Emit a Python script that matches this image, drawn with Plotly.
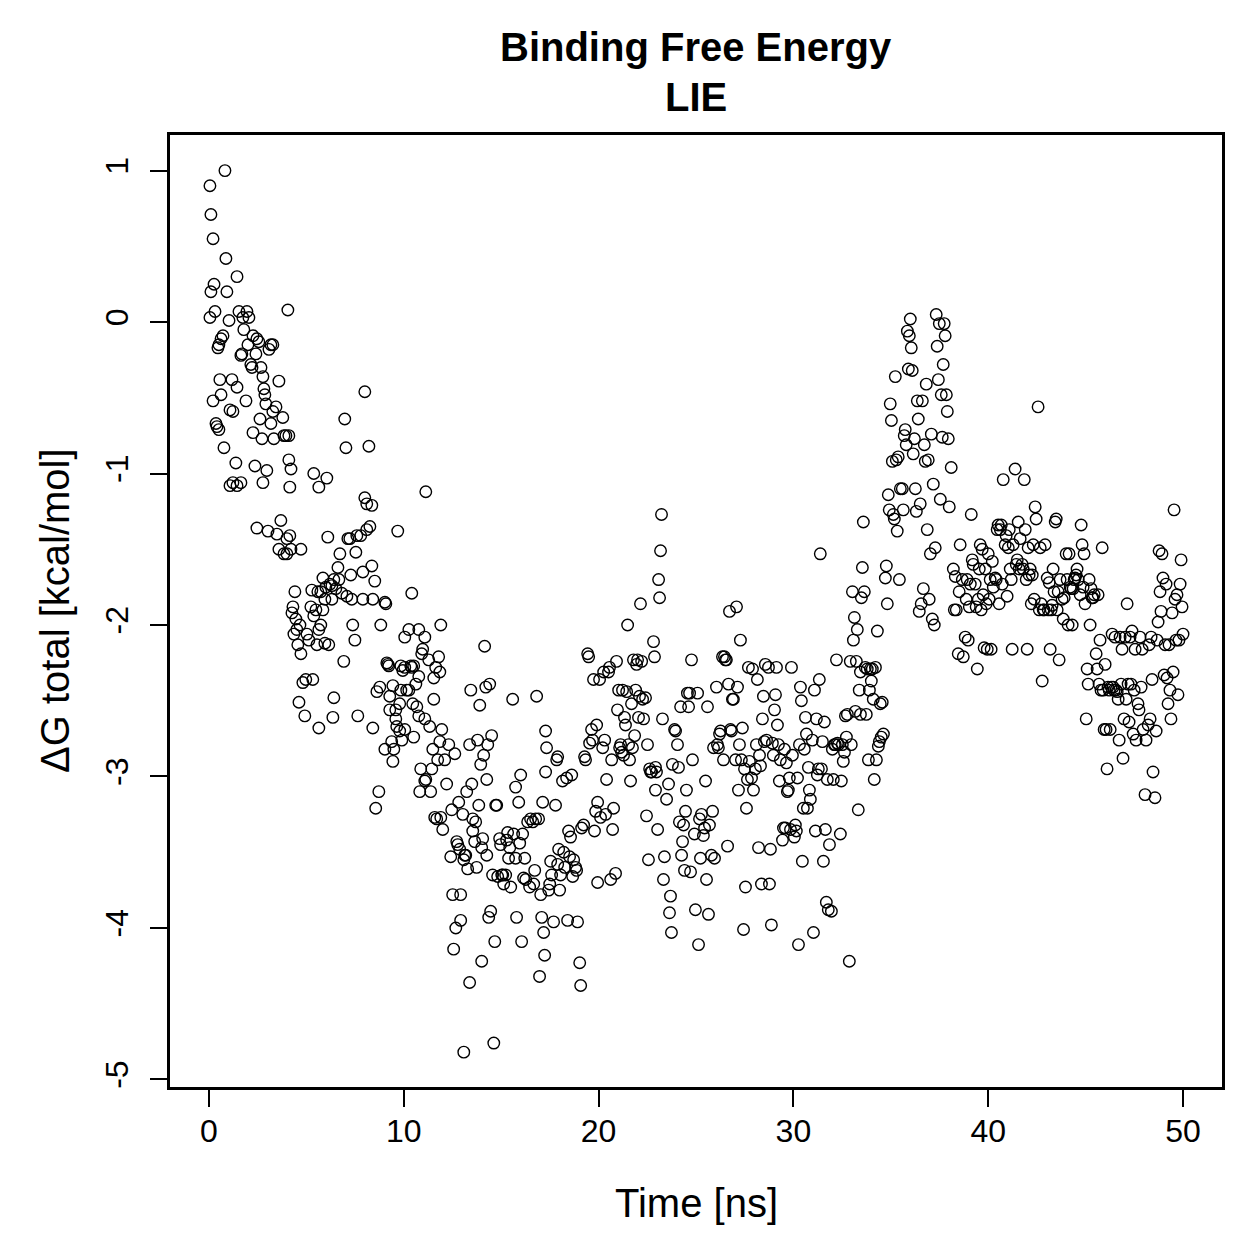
import plotly.graph_objects as go

# Time [ns] and Delta G total [kcal/mol], grouped by 2-ns windows
time_ns = [
    0.05,0.10,0.21,0.82,0.10,0.26,0.05,0.31,0.87,1.44,0.92,1.03,0.51,0.62,0.72,0.46,0.21,0.62,0.56,1.18,1.08,1.23,1.44,0.36,0.51,0.41,0.77,1.38,1.08,1.23,1.44,1.64,1.54,1.74,1.95,1.64,1.69,1.90,1.79,2.15,2.00,
    2.05,2.26,2.56,2.41,2.21,2.46,2.67,2.77,2.82,2.92,3.08,3.18,3.28,2.87,2.62,2.26,2.72,2.36,2.77,2.97,3.18,3.28,3.33,3.44,3.59,3.79,3.85,3.95,4.10,4.05,4.10,4.21,4.15,2.46,3.03,3.49,3.69,3.59,3.85,4.00,4.15,4.21,4.00,
    4.26,4.31,4.46,4.36,4.51,4.67,4.72,4.41,4.56,4.72,4.82,4.97,4.62,4.92,5.03,5.13,5.28,5.23,5.33,5.38,5.64,5.59,5.74,5.85,5.54,5.64,5.74,5.49,5.64,5.38,5.95,5.85,5.95,6.05,6.00,
    6.10,6.21,6.31,6.41,6.31,6.15,6.36,6.41,6.51,6.62,6.72,6.67,6.82,6.92,6.97,7.03,7.08,7.13,7.23,7.28,7.33,7.38,7.49,7.54,7.59,7.64,7.79,7.90,7.90,8.00,8.00,8.10,8.21,8.10,8.26,8.36,
    8.36,8.41,8.51,8.41,8.62,8.77,8.72,8.56,8.82,9.03,9.08,9.13,9.18,9.23,9.28,9.38,9.44,9.49,9.59,9.64,9.69,9.79,9.85,9.85,9.95,10.05,10.05,10.05,9.90,9.28,9.44,9.59,9.79,9.03,
    10.15,10.26,10.36,10.41,10.41,10.51,10.26,10.46,10.51,10.62,10.67,10.77,10.77,10.77,10.82,10.87,10.92,10.97,11.08,11.08,11.13,11.13,11.08,11.28,11.33,11.38,11.44,11.49,11.54,11.54,11.64,11.59,11.69,11.74,11.90,11.95,11.90,12.00,11.85,11.79,11.85,
    12.10,12.31,12.41,12.51,12.56,12.67,12.72,12.77,12.82,12.92,12.92,13.03,13.08,13.13,13.08,13.18,13.23,13.28,13.38,13.38,13.44,13.54,13.54,13.64,13.74,13.85,13.95,14.00,14.00,13.79,13.90,12.20,12.46,12.62,12.87,13.49,13.69,
    14.05,14.10,14.15,14.21,14.26,14.26,14.31,14.36,14.41,14.46,14.51,14.56,14.62,14.67,14.72,14.77,14.82,14.92,14.97,15.03,15.08,15.13,15.23,15.28,15.33,15.38,15.44,15.49,15.59,15.64,15.74,15.74,15.79,15.90,15.95,16.00,
    16.05,16.10,16.15,16.21,16.26,16.36,16.46,16.51,16.62,16.67,16.72,16.82,16.77,16.92,16.97,17.03,17.08,17.13,17.18,17.23,17.28,17.28,17.33,17.44,17.49,17.54,17.59,17.69,17.79,17.85,17.90,17.95,18.00,17.90,
    18.05,18.15,18.21,18.26,18.36,18.41,18.46,18.51,18.56,18.62,18.67,18.72,18.82,18.87,18.92,19.03,19.08,19.13,19.23,19.28,19.33,19.44,19.49,19.54,19.64,19.69,19.74,19.79,19.85,19.90,19.95,19.95,
    20.05,20.10,20.21,20.26,20.31,20.36,20.41,20.51,20.56,20.62,20.67,20.72,20.77,20.87,20.92,20.97,21.03,21.08,21.13,21.18,21.23,21.28,21.33,21.38,21.44,21.49,21.54,21.59,21.64,21.69,21.74,21.79,21.85,21.90,21.95,22.00,
    22.05,22.10,22.15,22.21,22.26,22.31,22.41,22.46,22.51,22.56,22.62,22.67,22.72,22.82,22.87,22.92,22.92,22.97,23.03,23.08,23.13,23.18,23.23,23.28,23.33,23.38,23.49,23.59,23.64,23.69,23.74,23.79,23.90,23.95,
    24.05,24.10,24.15,24.21,24.26,24.31,24.36,24.41,24.46,24.51,24.56,24.62,24.67,24.72,24.77,24.82,24.92,24.97,25.08,25.13,25.18,25.23,25.28,25.38,25.44,25.49,25.54,25.59,25.64,25.69,25.79,25.85,25.90,25.95,
    26.05,26.10,26.15,26.21,26.26,26.36,26.41,26.46,26.51,26.56,26.62,26.67,26.72,26.77,26.82,26.87,26.92,27.03,27.08,27.13,27.18,27.23,27.28,27.33,27.38,27.44,27.49,27.54,27.59,27.64,27.69,27.74,27.85,27.90,27.95,
    28.05,28.10,28.15,28.21,28.26,28.31,28.36,28.41,28.46,28.51,28.56,28.62,28.72,28.77,28.82,28.87,28.92,28.97,29.03,29.08,29.13,29.18,29.23,29.28,29.33,29.44,29.49,29.54,29.59,29.64,29.69,29.74,29.79,29.85,29.90,29.95,
    30.05,30.10,30.15,30.21,30.26,30.31,30.36,30.41,30.46,30.51,30.56,30.62,30.67,30.72,30.77,30.82,30.87,30.97,31.03,31.08,31.13,31.18,31.23,31.28,31.33,31.38,31.44,31.49,31.54,31.59,31.64,31.69,31.74,31.79,31.85,31.95,32.00,
    32.05,32.10,32.15,32.21,32.26,32.31,32.41,32.46,32.51,32.56,32.62,32.67,32.72,32.77,32.87,32.92,32.97,33.03,33.08,33.13,33.18,33.23,33.28,33.33,33.38,33.44,33.44,33.49,33.54,33.59,33.64,33.69,33.74,33.79,33.85,33.90,33.95,
    34.00,34.05,34.10,34.15,34.21,34.26,34.31,34.36,34.41,34.46,34.51,34.56,34.62,34.72,34.77,34.82,34.87,34.92,34.97,35.03,35.08,35.13,35.18,35.23,35.28,35.33,35.38,35.44,35.49,35.59,35.64,35.69,35.74,35.79,35.85,35.90,35.95,36.00,
    36.05,36.10,36.15,36.21,36.26,36.31,36.36,36.41,36.46,36.51,36.56,36.62,36.67,36.72,36.77,36.82,36.87,36.92,36.97,37.03,37.08,37.13,37.18,37.23,37.28,37.33,37.38,37.44,37.49,37.54,37.59,37.64,37.69,37.74,37.79,37.85,37.90,37.95,38.00,
    38.10,38.21,38.26,38.31,38.36,38.46,38.51,38.56,38.67,38.72,38.82,38.87,38.92,38.97,39.03,39.08,39.13,39.18,39.23,39.33,39.38,39.44,39.49,39.54,39.59,39.64,39.69,39.74,39.79,39.85,39.90,39.95,40.00,
    40.05,40.10,40.15,40.21,40.26,40.36,40.41,40.46,40.51,40.56,40.62,40.67,40.72,40.77,40.87,40.92,40.97,41.03,41.08,41.13,41.18,41.23,41.28,41.38,41.44,41.49,41.54,41.59,41.64,41.74,41.79,41.85,41.90,41.95,42.00,
    42.05,42.10,42.15,42.21,42.26,42.31,42.36,42.41,42.46,42.56,42.62,42.67,42.72,42.77,42.82,42.87,42.92,43.03,43.08,43.13,43.18,43.23,43.28,43.33,43.38,43.44,43.49,43.54,43.59,43.64,43.69,43.79,43.85,43.90,44.00,
    44.05,44.10,44.15,44.21,44.26,44.31,44.36,44.41,44.46,44.51,44.56,44.62,44.72,44.77,44.82,44.87,44.92,44.97,45.03,45.08,45.13,45.18,45.23,45.28,45.33,45.38,45.44,45.54,45.59,45.64,45.69,45.74,45.79,45.85,45.90,45.95,46.00,
    46.05,46.10,46.15,46.21,46.26,46.31,46.36,46.41,46.46,46.51,46.56,46.62,46.67,46.72,46.77,46.82,46.87,46.92,46.97,47.03,47.08,47.13,47.18,47.23,47.28,47.33,47.38,47.44,47.49,47.54,47.59,47.69,47.74,47.79,47.85,47.90,47.95,
    48.05,48.10,48.21,48.26,48.31,48.36,48.41,48.46,48.56,48.62,48.67,48.72,48.77,48.82,48.87,48.92,48.97,49.03,49.08,49.13,49.18,49.23,49.28,49.33,49.38,49.44,49.49,49.54,49.59,49.64,49.69,49.74,49.79,49.85,49.90,49.95,50.00,
]

dg_total = [
    0.90,0.71,0.55,1.00,0.20,0.25,0.03,0.07,0.42,0.30,0.20,0.01,-0.15,-0.11,-0.09,-0.17,-0.52,-0.48,-0.38,-0.38,-0.58,-0.59,-0.43,-0.67,-0.71,-0.69,-0.83,-0.93,-1.08,-1.06,-1.08,-1.06,0.07,0.03,0.07,-0.22,-0.21,-0.52,-0.05,-0.28,-0.15,
    0.03,-0.09,-0.13,-0.21,-0.30,-0.11,-0.30,-0.36,-0.44,-0.54,-0.18,-0.15,-0.15,-0.48,-0.64,-0.73,-0.77,-0.95,-1.06,-0.98,-0.67,-0.59,-0.77,-0.56,-0.39,-0.63,-0.75,-0.75,-0.75,0.08,-0.91,-0.97,-1.09,-1.36,-1.38,-1.40,-1.31,-1.50,-1.53,-1.43,-1.41,-1.50,-1.53,
    -1.92,-1.88,-1.96,-2.06,-2.03,-2.00,-1.50,-1.78,-2.13,-2.19,-2.38,-2.36,-2.51,-2.60,-2.06,-2.10,-1.77,-1.88,-2.36,-1.00,-1.09,-1.78,-1.78,-1.69,-2.13,-2.03,-2.00,-1.90,-2.68,-1.94,-1.83,-1.90,-2.12,-1.03,-1.75,
    -1.42,-1.73,-1.74,-1.70,-1.83,-2.13,-2.61,-2.48,-1.76,-1.62,-1.53,-1.70,-1.79,-2.24,-0.64,-0.83,-1.81,-1.43,-1.43,-1.67,-1.83,-2.00,-2.10,-1.52,-1.41,-2.60,-1.41,-1.83,-1.65,-0.46,-1.16,-1.37,-0.82,-1.20,-1.35,-1.21,
    -1.61,-1.83,-1.71,-2.68,-2.44,-2.41,-3.10,-3.21,-2.00,-1.85,-1.86,-2.25,-2.26,-2.27,-2.56,-2.77,-2.90,-2.82,-2.56,-2.67,-1.38,-2.70,-2.27,-2.43,-2.30,-2.28,-2.08,-2.69,-2.76,-2.47,-2.40,-2.62,-2.52,-2.82,
    -2.43,-2.43,-2.27,-1.79,-2.28,-2.27,-2.03,-2.52,-2.74,-2.39,-2.54,-2.34,-2.60,-2.03,-3.10,-2.95,-2.19,-2.16,-2.08,-3.03,-1.12,-3.02,-2.62,-2.23,-2.67,-3.10,-2.95,-2.82,-2.35,-2.49,-2.28,-3.27,-3.28,-2.89,-2.00,-2.69,-3.27,-3.35,-2.77,-2.21,-2.31,
    -2.89,-2.79,-3.53,-3.78,-4.14,-4.00,-3.43,-3.45,-3.17,-3.78,-3.95,-3.25,-3.55,-3.52,-4.82,-3.52,-3.10,-3.61,-2.79,-4.36,-2.43,-3.28,-3.36,-3.43,-3.60,-3.19,-2.92,-4.22,-3.47,-2.76,-2.53,-3.05,-3.22,-2.85,-3.48,-3.05,-3.30,
    -3.41,-2.86,-2.14,-2.41,-3.52,-3.02,-2.79,-3.93,-2.39,-3.89,-2.73,-3.65,-4.76,-4.09,-3.19,-3.19,-3.66,-3.41,-3.45,-3.65,-3.65,-3.71,-3.65,-3.42,-3.37,-3.54,-3.47,-3.73,-2.49,-3.38,-3.07,-3.54,-3.93,-3.17,-3.44,-2.99,
    -4.09,-3.38,-3.67,-3.54,-3.68,-3.30,-3.73,-3.28,-3.30,-3.71,-3.62,-2.47,-3.28,-3.28,-4.32,-3.78,-3.93,-3.17,-4.03,-4.18,-2.70,-2.97,-2.81,-3.75,-3.71,-3.56,-3.65,-3.96,-3.19,-2.89,-2.87,-3.48,-3.75,-3.58,
    -3.65,-3.03,-3.50,-3.60,-3.01,-3.95,-3.36,-3.53,-3.40,-2.99,-3.66,-3.55,-3.60,-3.62,-3.96,-4.23,-4.38,-3.34,-3.32,-2.87,-2.89,-2.19,-2.21,-2.78,-2.69,-2.76,-2.36,-3.36,-3.23,-2.66,-3.17,-3.70,
    -2.36,-3.27,-2.81,-2.31,-2.76,-3.25,-3.02,-2.31,-2.28,-3.68,-2.89,-3.35,-3.21,-3.64,-2.24,-2.56,-2.43,-2.81,-2.79,-2.84,-2.43,-2.86,-2.61,-2.66,-2.44,-2.00,-2.79,-2.89,-3.03,-2.52,-2.81,-2.23,-2.73,-2.43,-2.26,-2.23,
    -2.61,-2.47,-1.86,-2.24,-2.49,-2.62,-2.48,-3.26,-2.79,-3.55,-2.95,-2.97,-2.97,-2.11,-2.21,-2.94,-3.09,-2.97,-3.35,-1.70,-1.82,-1.51,-1.27,-2.62,-3.68,-3.53,-3.15,-3.05,-3.90,-3.79,-4.03,-2.92,-2.69,-2.70,
    -2.79,-2.94,-3.30,-2.54,-3.52,-3.43,-3.32,-3.62,-3.23,-3.09,-2.45,-2.54,-2.45,-3.63,-2.23,-2.89,-3.38,-3.88,-2.45,-4.11,-3.28,-3.54,-3.25,-3.39,-3.34,-3.03,-3.68,-2.54,-3.91,-3.32,-3.52,-3.23,-2.81,-3.54,
    -2.41,-2.79,-2.81,-2.72,-2.70,-2.21,-2.89,-2.21,-2.23,-2.23,-3.46,-2.39,-1.91,-2.69,-2.70,-2.49,-2.49,-2.89,-1.88,-2.41,-3.09,-2.79,-2.10,-2.89,-2.68,-4.01,-2.95,-3.73,-3.21,-3.02,-2.28,-2.90,-3.01,-2.29,-3.09,
    -2.95,-2.79,-2.36,-3.47,-2.86,-2.93,-3.71,-2.62,-2.47,-2.77,-2.26,-2.76,-2.28,-3.71,-3.48,-3.98,-2.78,-2.86,-2.56,-2.46,-2.28,-2.66,-2.79,-3.03,-2.89,-3.42,-3.34,-2.82,-3.34,-2.91,-3.10,-3.09,-3.01,-3.35,-2.28,-2.86,
    -3.40,-3.32,-3.36,-3.01,-4.11,-2.79,-2.41,-2.50,-3.56,-3.21,-2.82,-2.61,-2.72,-3.21,-2.94,-3.09,-3.15,-2.76,-4.03,-2.43,-3.36,-2.62,-2.99,-2.95,-2.36,-1.53,-2.95,-2.77,-3.56,-2.64,-3.35,-3.83,-3.02,-3.88,-3.45,-3.89,-2.82,
    -3.02,-2.79,-2.79,-2.23,-2.78,-2.79,-3.38,-3.03,-2.79,-2.90,-2.84,-2.60,-2.74,-2.59,-4.22,-2.24,-2.79,-1.78,-2.10,-1.95,-2.57,-2.24,-2.03,-3.22,-2.43,-2.31,-2.59,-1.82,-1.62,-1.32,-1.78,-2.28,-2.59,-2.29,-2.89,-2.43,-2.29,
    -2.37,-2.29,-2.49,-3.02,-2.28,-2.89,-2.04,-2.80,-2.77,-2.52,-2.74,-2.51,-2.72,-1.69,-1.61,-1.86,-1.14,-1.24,-0.54,-0.65,-0.92,-1.27,-1.30,-0.36,-0.91,-1.38,-0.89,-1.70,-1.10,-1.10,-1.24,-0.75,-0.71,-0.81,-0.06,-0.31,-0.09,0.02,
    -0.17,-0.32,-0.87,-0.77,-1.10,-1.25,-0.52,-0.64,-1.91,-1.20,-1.86,-0.52,-1.76,-0.81,-0.92,-0.41,-1.37,-0.91,-1.83,-1.53,-0.74,-1.96,-1.07,-2.00,-1.49,0.05,-0.16,-0.38,-0.01,-1.17,-0.48,-0.76,-0.28,-0.01,-0.09,-0.48,-0.59,-0.77,-1.22,
    -0.96,-1.63,-1.90,-1.68,-1.90,-2.19,-1.78,-1.47,-1.70,-2.21,-2.08,-1.83,-1.70,-2.10,-1.88,-1.73,-1.27,-1.57,-1.60,-1.73,-1.88,-2.29,-1.83,-1.63,-1.47,-1.90,-1.50,-1.80,-2.15,-1.63,-1.86,-2.16,-1.53,
    -1.83,-1.70,-2.16,-1.58,-1.75,-1.69,-1.70,-1.37,-1.34,-1.86,-1.37,-1.34,-1.73,-1.04,-1.47,-1.41,-1.81,-1.49,-1.37,-1.63,-1.70,-2.16,-1.47,-0.97,-1.60,-1.57,-1.32,-1.63,-1.43,-1.60,-1.63,-1.04,-1.37,-1.70,-2.16,
    -1.49,-1.67,-1.63,-1.86,-1.67,-1.47,-1.83,-1.22,-1.30,-0.56,-1.90,-1.49,-1.86,-2.37,-1.90,-1.90,-1.47,-1.69,-1.90,-1.72,-2.16,-1.90,-1.87,-1.63,-1.78,-1.32,-1.30,-1.90,-1.78,-2.23,-1.70,-1.83,-1.96,-1.82,-1.53,
    -1.70,-2.00,-1.53,-1.75,-1.76,-2.00,-1.76,-1.70,-1.69,-1.67,-1.63,-1.70,-1.80,-1.34,-1.47,-1.75,-1.53,-1.86,-2.62,-2.29,-2.39,-1.70,-2.00,-1.76,-1.82,-1.82,-1.80,-2.19,-2.29,-1.80,-2.39,-2.10,-2.43,-1.49,-2.43,-2.69,-2.26,
    -2.69,-2.95,-2.41,-2.43,-2.69,-2.41,-2.06,-2.41,-2.43,-2.08,-2.43,-2.44,-2.49,-2.76,-2.08,-2.39,-2.16,-2.88,-2.62,-2.08,-2.49,-1.86,-2.39,-2.64,-2.08,-2.39,-2.04,-2.72,-2.43,-2.16,-2.76,-2.52,-2.56,-2.08,-2.41,-2.16,-2.69,
    -3.12,-2.76,-2.66,-2.13,-2.62,-2.08,-2.36,-2.97,-3.14,-2.70,-2.10,-1.98,-1.51,-1.78,-1.91,-1.53,-1.69,-2.33,-2.13,-1.73,-2.35,-2.52,-2.13,-2.43,-2.62,-1.92,-2.31,-1.24,-1.83,-2.10,-1.80,-2.46,-2.10,-1.73,-1.57,-1.88,-2.06,
]

x_ticks = [0, 10, 20, 30, 40, 50]
y_ticks = [-5, -4, -3, -2, -1, 0, 1]
y_tick_labels = ["-5", "-4", "-3", "-2", "-1", "0", "1"]

title_line1 = "Binding Free Energy"
title_line2 = "LIE"
x_title = "Time [ns]"
y_title = "\u0394G total [kcal/mol]"

FONT = "Liberation Sans, Arial, Helvetica, sans-serif"

fig = go.Figure()
fig.add_trace(go.Scatter(
    x=time_ns, y=dg_total, mode="markers",
    marker=dict(symbol="circle-open", size=11.5, color="black", line=dict(width=1.4, color="black")),
    showlegend=False, hoverinfo="skip",
))

axis_common = dict(
    showgrid=False, zeroline=False, showline=True, linecolor="black", linewidth=2.5,
    mirror=True, ticks="outside", ticklen=17, tickwidth=2, tickcolor="black",
    tickfont=dict(family=FONT, size=32, color="black"),
)

fig.update_layout(
    width=1259, height=1259,
    margin=dict(l=170, r=37, t=135, b=172),
    paper_bgcolor="white", plot_bgcolor="white",
    font=dict(family=FONT, color="black"),
    xaxis=dict(range=[-2, 52], tickmode="array", tickvals=x_ticks,
               ticktext=[str(v) for v in x_ticks], ticklabelstandoff=-3, **axis_common),
    yaxis=dict(range=[-5.05, 1.235], tickmode="array", tickvals=y_ticks,
               ticktext=y_tick_labels, tickangle=-90, ticklabelstandoff=9, **axis_common),
)

fig.add_annotation(text="<b>%s</b>" % title_line1, xref="paper", yref="paper",
                   x=0.5, y=1 + (135 - 47) / 952, xanchor="center", yanchor="middle",
                   showarrow=False, font=dict(family=FONT, size=40, color="black"))
fig.add_annotation(text="<b>%s</b>" % title_line2, xref="paper", yref="paper",
                   x=0.5, y=1 + (135 - 97) / 952, xanchor="center", yanchor="middle",
                   showarrow=False, font=dict(family=FONT, size=40, color="black"))
fig.add_annotation(text=x_title, xref="paper", yref="paper",
                   x=0.5, y=-(1203 - 1087) / 952, xanchor="center", yanchor="middle",
                   showarrow=False, font=dict(family=FONT, size=40, color="black"))
fig.add_annotation(text=y_title, xref="paper", yref="paper",
                   x=-(170 - 55) / 1052, y=0.5, xanchor="center", yanchor="middle",
                   textangle=-90, showarrow=False, font=dict(family=FONT, size=40, color="black"))

fig.write_html("out.html")
